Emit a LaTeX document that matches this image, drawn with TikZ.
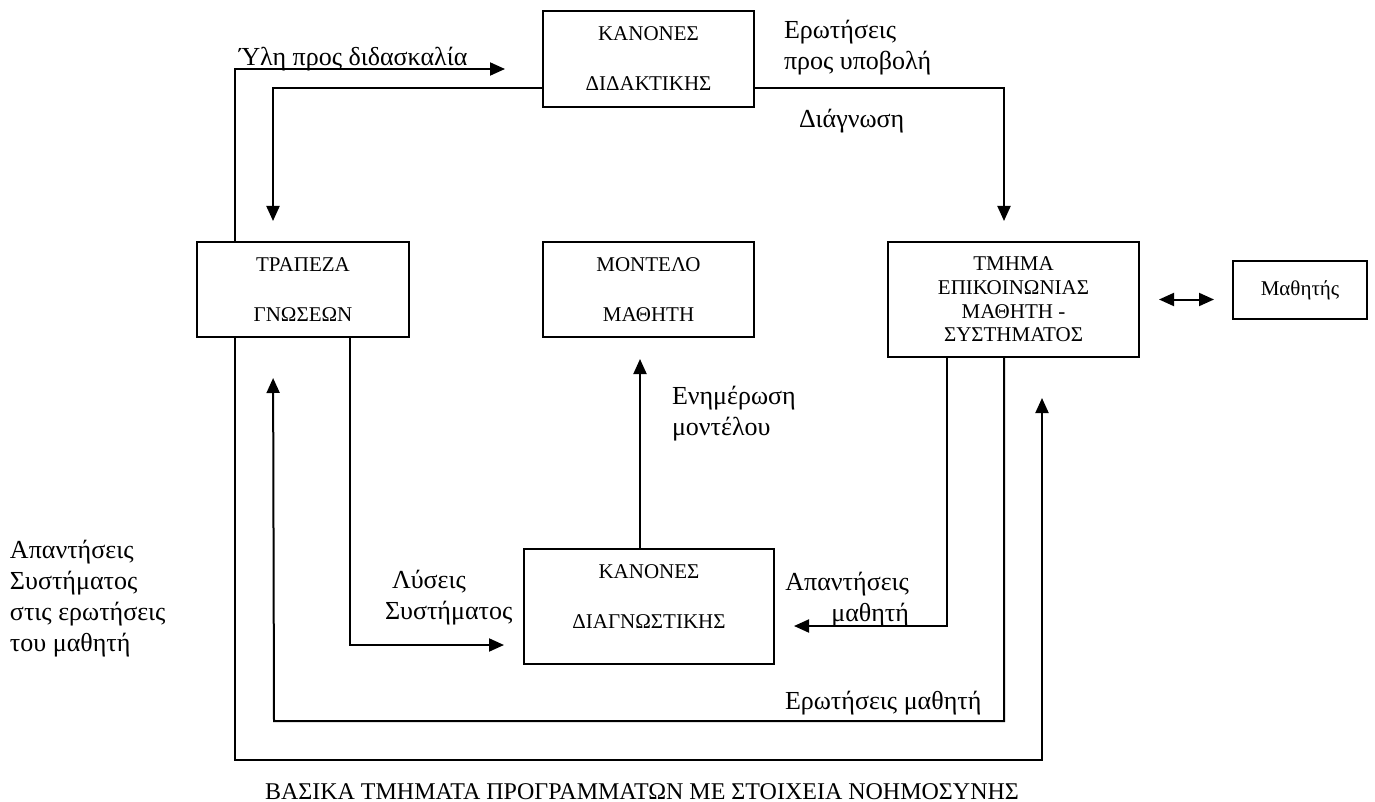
\documentclass[tikz,border=0pt]{standalone}
\usepackage{fontspec}
\setmainfont{Liberation Serif}
\usetikzlibrary{arrows.meta}
\begin{document}
\begin{tikzpicture}[x=0.5pt,y=-0.5pt,line width=1pt,>={Triangle[length=7.5pt,width=6.5pt]}]
	\tikzstyle{block}=[draw,rectangle,inner sep=0pt,align=center,font=\fontsize{10.5}{25}\selectfont]
	\tikzstyle{annot}=[inner sep=0pt,align=left,font=\fontsize{13}{15.5}\selectfont]
	\tikzstyle{flow}=[->]
	
	\useasboundingbox (0,0) rectangle (1375,802);
	
	% Draw the blocks
	\node[block,minimum width=105.5pt,minimum height=48pt] (didaktiki) at (648.5,59) {ΚΑΝΟΝΕΣ\\ΔΙΔΑΚΤΙΚΗΣ};
	\node[block,minimum width=106pt,minimum height=47.5pt] (trapeza) at (303,289.5) {ΤΡΑΠΕΖΑ\\ΓΝΩΣΕΩΝ};
	\node[block,minimum width=105.5pt,minimum height=47.5pt] (montelo) at (648.5,289.5) {ΜΟΝΤΕΛΟ\\ΜΑΘΗΤΗ};
	\node[block,minimum width=125.5pt,minimum height=57.5pt,font=\fontsize{10.5}{11.85}\selectfont] (tmima) at (1013.5,299.5) {ΤΜΗΜΑ\\ΕΠΙΚΟΙΝΩΝΙΑΣ\\ΜΑΘΗΤΗ -\\ΣΥΣΤΗΜΑΤΟΣ};
	\node[block,minimum width=67pt,minimum height=29pt] (mathitis) at (1300,290) {Μαθητής};
	\node[block,minimum width=125pt,minimum height=57.5pt] (diagn) at (649,606.5) {ΚΑΝΟΝΕΣ\\ΔΙΑΓΝΩΣΤΙΚΗΣ\\[-15.5pt]\mbox{}};
	
	% Corners and free ends of the connectors
	\coordinate (yli) at (505,69);
	\coordinate (outer) at (1042,760);
	\coordinate (inner) at (274,721);
	
	% Connect the blocks
	\draw[flow] ([xshift=19.5pt]trapeza.north west) |- (yli);
	\draw[flow,shorten >=10pt] ([yshift=-14.5pt]didaktiki.west) -| ([xshift=38.5pt]trapeza.north west);
	\draw[flow,shorten >=10pt] ([yshift=-14.5pt]didaktiki.east) -| ([xshift=-4.75pt]tmima.north);
	\draw[flow,shorten >=9.5pt] ([xshift=77pt]trapeza.south west) |- ([yshift=-19.25pt]diagn.west);
	\draw[flow,shorten >=9.5pt] ([xshift=-33.25pt]tmima.south) |- ([yshift=-9.75pt]diagn.east);
	\draw[flow,shorten >=10.5pt] ([xshift=-4.5pt]diagn.north) -- ([xshift=-4.25pt]montelo.south);
	\draw[flow,shorten >=20pt] ([xshift=-4.75pt]tmima.south) |- (inner) -- ([xshift=38.5pt]trapeza.south west);
	\draw[flow,shorten >=20pt] ([xshift=19.5pt]trapeza.south west) |- (outer) -- ([xshift=14.25pt]tmima.south);
	\draw[<->,shorten <=9.5pt,shorten >=9pt] (tmima.east) -- (tmima.east -| mathitis.west);
	
	% Annotate the connectors
	\node[annot,anchor=base west] (yliText) at (238,66) {Ύλη προς διδασκαλία};
	\node[annot,anchor=north west] (erotText) at (783,19) {Ερωτήσεις\\προς υποβολή};
	\node[annot,anchor=west] (diagText) at (798,121) {Διάγνωση};
	\node[annot,anchor=north west] (enimText) at (671,385) {Ενημέρωση\\μοντέλου};
	\node[annot,anchor=north west] (apSysText) at (9,539) {Απαντήσεις\\Συστήματος\\στις ερωτήσεις\\του μαθητή};
	\node[annot,anchor=north west] (lysText) at (384,569) {\hspace{3.5pt}Λύσεις\\Συστήματος};
	\node[annot,anchor=north east,align=right] (apMathText) at (910,571) {Απαντήσεις\\μαθητή};
	\node[annot,anchor=west] (erMathText) at (784,703) {Ερωτήσεις μαθητή};
	
	% Caption
	\node[inner sep=0pt,font=\fontsize{12}{14}\selectfont] (caption) at (642,792) {ΒΑΣΙΚΑ ΤΜΗΜΑΤΑ ΠΡΟΓΡΑΜΜΑΤΩΝ ΜΕ ΣΤΟΙΧΕΙΑ ΝΟΗΜΟΣΥΝΗΣ};
\end{tikzpicture}
\end{document}
